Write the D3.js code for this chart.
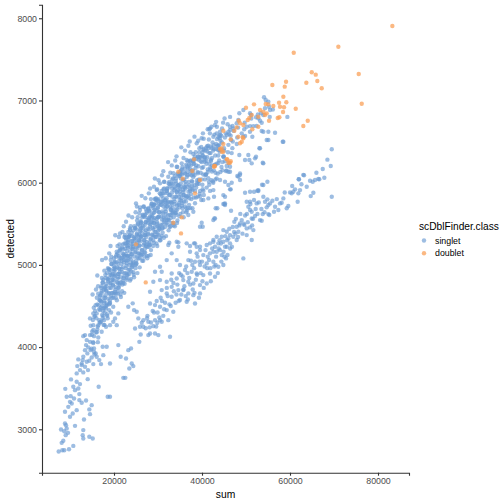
<!DOCTYPE html>
<html>
<head>
<meta charset="utf-8">
<script src="https://cdn.jsdelivr.net/npm/d3@7"></script>
<style>
  body { margin: 0; background: #fff; }
  text { font-family: "Liberation Sans", Arial, sans-serif; }
</style>
</head>
<body>
<div class="chart"></div>
<script>
// values, [sum, detected]
var tailPts = [
  [7430,2730],[8250,2746],[8700,2746],[9770,2758],[10750,2798],[8110,2835],[8480,2860],[9020,2929],[9550,2957],
  [7960,2998],[8700,2977],[9250,3010],[8860,3071],[9090,3050],[11140,3042],[13020,2990],[12890,2929],[13020,2888],
  [14390,2909],[15160,2888],[14550,3184],[13180,3120],[10000,3152],[10620,3193],[11520,3233],[8860,3213],[9620,3273],
  [10390,3314],[9250,3395],[10160,3403],[10750,3517],[11140,3476],[11890,3497],[10230,3607],[11520,3578],[12270,3550],
  [8930,3492],[10000,3334],[10910,3375],[12120,3355],[12660,3322],[12120,3428],[11520,3680],[13020,3692],[12270,3720],
  [11660,3769],[12660,3781],[13410,3760],[11890,3850],[12890,3842],[13800,3821],[14020,3610],[16520,3517],[18570,3395],
  [19090,3395],[14090,3720],[14930,3294],[14390,3242],[13640,3351],
  [13020,4133],[13800,4085],[14550,4064],[13640,4024],[14160,3996],[14700,3963],[15460,3984],[15840,3923],[13940,3923],
  [14930,3874],[16070,3882],[16660,3842],[17050,3793],[17570,3902],[15300,3793],[14390,3833],[13410,3963],[13020,3882],
  [12660,3801],[18340,4004],[17430,4004],[16430,4117],[15300,4207],[16210,4215],[17200,4186],[18180,4247],[19090,4267],
  [19090,3801],[15300,4267],[14550,4146],[15460,4133],[14550,4349],[15530,4369],[16070,4410],[16820,4450],[17570,4471],
  [16660,4328],[17730,4328],[16430,4267],[19840,4308],[20620,4267],[20980,4410],[20230,4349]
];

var upperBand = [
  [14900,3980],[15200,4330],[15000,4150],[15400,4480],[14700,4260],[15300,4050],
  [15900,4180],[16200,4520],[16000,4350],[16400,4650],[15700,4440],[16300,4250],[16100,4600],
  [16900,4300],[17200,4660],[17000,4480],[17400,4780],[16700,4570],[17300,4390],[17100,4720],[16800,4620],
  [17900,4420],[18200,4770],[18000,4600],[18400,4900],[17700,4700],[18300,4510],[18100,4840],[17800,4560],[18250,4680],
  [18900,4520],[19200,4880],[19000,4720],[19400,5010],[18700,4800],[19300,4620],[19100,4940],[18800,4660],[19250,4780],[19050,4570],
  [19900,4600],[20200,4970],[20000,4810],[20400,5100],[19700,4890],[20300,4700],[20100,5030],[19800,4750],[20250,4870],[20050,4650],[19950,4930],
  [20900,4680],[21200,5050],[21000,4890],[21400,5180],[20700,4970],[21300,4780],[21100,5110],[20800,4830],[21250,4950],[21050,4730],[20950,5010],
  [21900,4760],[22200,5130],[22000,4970],[22400,5260],[21700,5050],[22300,4860],[22100,5190],[21800,4910],[22250,5030],[22050,4810],[21950,5090],
  [22900,4840],[23200,5210],[23000,5050],[23400,5340],[22700,5130],[23300,4940],[23100,5270],[22800,4990],[23250,5110],[23050,4890],[22950,5170],
  [23900,4920],[24200,5290],[24000,5130],[24400,5420],[23700,5210],[24300,5020],[24100,5350],[23800,5070],[24250,5190],[24050,4970],[23950,5250],
  [24900,5000],[25200,5370],[25000,5210],[25400,5500],[24700,5290],[25300,5100],[25100,5430],[24800,5150],[25250,5270],[25050,5050],[24950,5330],
  [25900,5080],[26200,5450],[26000,5290],[26400,5580],[25700,5370],[26300,5180],[26100,5510],[25800,5230],[26250,5350],[26050,5130],[25950,5410],
  [26900,5150],[27200,5520],[27000,5360],[27400,5650],[26700,5440],[27300,5250],[27100,5580],[26800,5300],[27250,5420],[27050,5200],[26950,5480],
  [27900,5220],[28200,5590],[28000,5430],[28400,5720],[27700,5510],[28300,5320],[28100,5650],[27800,5370],[28250,5490],[28050,5270],[27950,5550],
  [28900,5300],[29200,5670],[29000,5510],[29400,5800],[28700,5590],[29300,5400],[29100,5730],[28800,5450],[29250,5570],[29050,5350],[28950,5630],
  [29900,5370],[30200,5740],[30000,5580],[30400,5870],[29700,5660],[30300,5470],[30100,5800],[29800,5520],[30250,5640],[30050,5420],[29950,5700],
  [30900,5440],[31200,5810],[31000,5650],[31400,5930],[30700,5730],[31300,5540],[31100,5870],[30800,5590],[31250,5710],[31050,5490],[30950,5770],
  [31900,5510],[32200,5870],[32000,5710],[32400,5990],[31700,5790],[32300,5600],[32100,5930],[31800,5650],[32250,5770],[32050,5550],
  [32900,5570],[33200,5930],[33000,5770],[33400,6050],[32700,5850],[33300,5660],[33100,5990],[32800,5710],[33250,5830],[33050,5610],
  [33900,5630],[34200,5990],[34000,5830],[34400,6110],[33700,5910],[34300,5720],[34100,6050],[33800,5770],[34250,5890],[34050,5670],
  [34900,5700],[35200,6050],[35000,5890],[35400,6160],[34700,5970],[35300,5780],[35100,6110],[34800,5830],[35250,5950],
  [35900,5770],[36200,6110],[36000,5950],[36400,6220],[35700,6030],[36300,5840],[36100,6170],[35800,5890],[36250,6010],
  [36900,5840],[37200,6170],[37000,6010],[37400,6270],[36700,6090],[37300,5900],[37100,6220],[36800,5950],
  [37900,5910],[38200,6230],[38000,6070],[38400,6320],[37700,6150],[38300,5970],[38100,6270],[37800,6010],
  [38900,5980],[39200,6280],[39000,6130],[39400,6370],[38700,6210],[39300,6040],[39100,6320],
  [39900,6040],[40200,6330],[40000,6180],[40400,6410],[39700,6260],[40300,6100],[40100,6370],
  [40900,6100],[41200,6380],[41000,6230],[41400,6450],[40700,6310],[41300,6160],
  [41900,6160],[42200,6420],[42000,6280],[42400,6490],[41700,6360],[42300,6210],
  [42900,6220],[43200,6470],[43000,6330],[43400,6530],[42700,6410],
  [43900,6270],[44200,6510],[44000,6380],[44400,6570],[43700,6450],
  [44900,6320],[45200,6550],[45000,6420],[45400,6600],
  [45900,6370],[46200,6590],[46000,6460],[46400,6640],
  [46900,6420],[47200,6630],[47000,6500],
  [47900,6470],[48200,6670],[48000,6550],
  [49400,6560],[49700,6730],[49600,6650],
  [50900,6620],[51200,6780],[52400,6690],[52700,6830],[55400,6800],[56100,6890]
];

var upperFill = [
  [15130,4640],[15470,3940],[15820,4510],[15260,4060],[15690,4380],[15040,4190],[15560,3910],[15910,4700],
  [16090,4180],[16380,4740],[16740,4300],[16210,4870],[16610,4460],[16950,4630],[16330,4060],[16520,4510],
  [17170,4740],[17430,4350],[17800,4930],[17020,4560],[17650,4270],[17290,5060],[17880,4480],[17560,4820],
  [18130,5080],[18470,4380],[18820,4950],[18260,4500],[18690,4820],[18040,4630],[18560,4350],[18910,5140],
  [19090,4540],[19380,5100],[19740,4660],[19210,5230],[19610,4820],[19950,4990],[19330,4420],[19520,4870],
  [20170,5040],[20430,4650],[20800,5230],[20020,4860],[20650,4570],[20290,5360],[20880,4780],[20560,5120],
  [21130,5340],[21470,4640],[21820,5210],[21260,4760],[21690,5080],[21040,4890],[21560,4610],[21910,5400],
  [22090,4780],[22380,5340],[22740,4900],[22210,5470],[22610,5060],[22950,5230],[22330,4660],[22520,5110],
  [23170,5280],[23430,4890],[23800,5470],[23020,5100],[23650,4810],[23290,5600],[23880,5020],[23560,5360],
  [24130,5580],[24470,4880],[24820,5450],[24260,5000],[24690,5320],[24040,5130],[24560,4850],[24910,5640],
  [25090,5020],[25380,5580],[25740,5140],[25210,5710],[25610,5300],[25950,5470],[25330,4900],[25520,5350],
  [26170,5520],[26430,5130],[26800,5710],[26020,5340],[26650,5050],[26290,5840],[26880,5260],[26560,5600],
  [27130,5810],[27470,5110],[27820,5680],[27260,5230],[27690,5550],[27040,5360],[27560,5080],[27910,5870],
  [28090,5240],[28380,5800],[28740,5360],[28210,5930],[28610,5520],[28950,5690],[28330,5120],[28520,5570],
  [29170,5730],[29430,5340],[29800,5920],[29020,5550],[29650,5260],[29290,6050],[29880,5470],[29560,5810],
  [30130,6030],[30470,5330],[30820,5900],[30260,5450],[30690,5770],[30040,5580],[30560,5300],[30910,6090],
  [31090,5450],[31380,6010],[31740,5570],[31210,6140],[31610,5730],[31950,5900],[31330,5330],[31520,5780],
  [32170,5930],[32430,5540],[32800,6120],[32020,5750],[32650,5460],[32290,6250],[32880,5670],[32560,6010],
  [33130,6210],[33470,5510],[33820,6080],[33260,5630],[33690,5950],[33040,5760],[33560,5480],[33910,6270],
  [34090,5630],[34380,6190],[34740,5750],[34210,6320],[34610,5910],[34950,6080],[34330,5510],[34520,5960],
  [35170,6110],[35430,5720],[35800,6300],[35020,5930],[35650,5640],[35290,6430],[35880,5850],[35560,6190],
  [36130,6390],[36470,5690],[36820,6260],[36260,5810],[36690,6130],[36040,5940],[36560,5660],[36910,6450],
  [37090,5810],[37380,6370],[37740,5930],[37210,6500],[37610,6090],[37950,6260],[37330,5690],[37520,6140],
  [38170,6290],[38430,5900],[38800,6480],[38020,6110],[38650,5820],[38290,6560],[38880,6030],[38560,6370],
  [39130,6510],[39470,5865],[39820,6435],[39260,5985],[39690,6305],[39040,6115],[39560,5835],[39910,6540],
  [40090,5975],[40380,6535],[40740,6095],[40210,6600],[40610,6255],[40950,6425],[40330,5900],[40520,6305],
  [41170,6445],[41430,6055],[41800,6600],[41020,6265],[41650,5975],[41290,6650],[41880,6185],[41560,6525],
  [42130,6680],[42470,6015],[42820,6585],[42260,6135],[42690,6455],[42040,6265],[42560,6000],[42910,6700],
  [43090,6120],[43380,6680],[43740,6240],[43210,6740],[43610,6400],[43950,6570],[43330,6050],[43520,6450],
  [44170,6580],[44430,6190],[44800,6730],[44020,6400],[44650,6150],[44880,6320],[44560,6660],
  [45130,6780],[45470,6140],[45820,6710],[45260,6260],[45690,6580],[45040,6390],[45560,6150],
  [46090,6240],[46380,6800],[46740,6360],[46610,6520],[46950,6690],[46520,6570]
];

// the saturated ridge of the upper band
var upperRidge = [
  [17060,4310],[17190,4680],[17310,4500],[17440,4790],[17570,4380],[17700,4600],[17830,4270],[17950,4730],[17250,4840],[17500,4440],[17760,4540],[17120,4550],
  [18030,4880],[18160,4470],[18280,4740],[18410,4400],[18540,4830],[18670,4590],[18800,4940],[18920,4650],[18350,4530],[18610,4960],[18880,4450],[18220,4690],
  [19060,4530],[19190,4900],[19310,4720],[19440,5010],[19570,4600],[19700,4820],[19830,4490],[19950,4950],[19250,5060],[19500,4660],[19760,4760],[19120,4770],
  [20030,5080],[20160,4670],[20280,4940],[20410,4600],[20540,5030],[20670,4790],[20800,5140],[20920,4850],[20350,4730],[20610,5160],[20880,4650],[20220,4890],
  [21060,4720],[21190,5090],[21310,4910],[21440,5200],[21570,4790],[21700,5010],[21830,4680],[21950,5140],[21250,5250],[21500,4850],[21760,4950],[21120,4960],
  [22030,5250],[22160,4840],[22280,5110],[22410,4770],[22540,5200],[22670,4960],[22800,5310],[22920,5020],[22350,4900],[22610,5330],[22880,4820],[22220,5060],
  [23060,4870],[23190,5240],[23310,5060],[23440,5350],[23570,4940],[23700,5160],[23830,4830],[23950,5290],[23250,5400],[23500,5000],[23760,5100],[23120,5110],
  [24030,5390],[24160,4980],[24280,5250],[24410,4910],[24540,5340],[24670,5100],[24800,5450],[24920,5160],[24350,5040],[24610,5470],[24880,4960],[24220,5200],
  [25060,5010],[25190,5380],[25310,5200],[25440,5490],[25570,5080],[25700,5300],[25830,4970],[25950,5430],[25250,5540],[25500,5140],[25760,5240],[25120,5250],
  [26030,5530],[26160,5120],[26280,5390],[26410,5050],[26540,5480],[26670,5240],[26800,5590],[26920,5300],[26350,5180],[26610,5610],[26880,5100],[26220,5340],
  [27060,5150],[27190,5520],[27310,5340],[27440,5630],[27570,5220],[27700,5440],[27830,5110],[27950,5570],[27250,5680],[27500,5280],[27760,5380],[27120,5390],
  [28030,5660],[28160,5250],[28280,5520],[28410,5180],[28540,5610],[28670,5370],[28800,5720],[28920,5430],[28350,5310],[28610,5740],[28880,5230],[28220,5470],
  [29060,5270],[29190,5640],[29310,5460],[29440,5750],[29570,5340],[29700,5560],[29830,5230],[29950,5690],[29250,5800],[29500,5400],[29760,5500],[29120,5510],
  [30030,5780],[30160,5370],[30280,5640],[30410,5300],[30540,5730],[30670,5490],[30800,5840],[30920,5550],[30350,5430],[30610,5860],[30880,5350],[30220,5590],
  [31060,5390],[31190,5760],[31310,5580],[31440,5870],[31570,5460],[31700,5680],[31830,5350],[31950,5810],[31250,5920],[31500,5520],[31760,5620],[31120,5630],
  [32030,5900],[32160,5490],[32280,5760],[32410,5420],[32540,5850],[32670,5610],[32800,5960],[32920,5670],[32350,5550],[32610,5980],[32880,5470],[32220,5710],
  [33060,5510],[33190,5880],[33310,5700],[33440,5990],[33570,5580],[33700,5800],[33830,5470],[33950,5930],[33250,6040],[33500,5640],[33760,5740],[33120,5750],
  [34030,6020],[34160,5610],[34280,5880],[34410,5540],[34540,5970],[34670,5730],[34800,6080],[34920,5790],[34350,5670],[34610,6100],[34880,5590],[34220,5830],
  [35060,5620],[35190,5990],[35310,5810],[35440,6100],[35570,5690],[35700,5910],[35830,5580],[35950,6040],[35250,6150],[35500,5750],[35760,5850],[35120,5860],
  [36030,6120],[36160,5710],[36280,5980],[36410,5640],[36540,6070],[36670,5830],[36800,6180],[36920,5890],[36350,5770],[36610,6200],[36880,5690],[36220,5930],
  [37060,5730],[37190,6100],[37310,5920],[37440,6210],[37570,5800],[37700,6020],[37830,5690],[37950,6150],[37250,6260],[37500,5860],[37760,5960],[37120,5970],
  [38030,6230],[38160,5820],[38280,6090],[38410,5750],[38540,6180],[38670,5940],[38800,6290],[38920,6000],
  [39060,5830],[39190,6200],[39310,6020],[39440,6310],[39570,5900],[39700,6120],[39830,5790],[39950,6250],
  [40030,6330],[40160,5920],[40280,6190],[40410,5850],[40540,6280],[40670,6040],[40800,6390],[40920,6100],
  [41060,5940],[41190,6310],[41310,6130],[41440,6420],[41570,6010],[41700,6230],[41830,5900],[41950,6360],
  [42030,6440],[42160,6030],[42280,6300],[42540,6390],[42670,6150],[42920,6210],
  [43060,6040],[43190,6410],[43310,6230],[43570,6110],[43700,6330],[43950,6460],
  [44030,6540],[44160,6130],[44280,6400],[44540,6490],[44670,6250],[44920,6310]
];

var upperEdge = [
  [41670,6649],[39400,6418],[40300,6397],[38030,6349],[39170,6316],[36520,6276],[35390,6235],[34250,6194],[35000,6133],
  [33480,6114],[32340,6072],[31440,6012],[30460,5992],[29710,5910],[29090,5951],[29710,5789],[28570,5748],[27800,5688],
  [26660,5707],[25760,5627],[27050,5606],[23640,5424],[23250,5342],[22730,5262],[24390,5220],
  [54100,7039],[54480,7006],[55080,6985],[54320,6905],[55230,6924],[55460,6884],[53420,6844],[52800,6783],[52280,6795],
  [53940,6823],[53190,6754],[53570,6729],[50920,6844],[51140,6823],[49400,6884],[48480,6844],[48260,6762],
  [47890,6722],[47120,6661],[46370,6680],[46000,6620],[44100,6620],[43340,6600],[43710,6552],[42580,6559],[41820,6661],
  [50160,6680],[50920,6688],[51670,6688],[49030,6600],[49780,6568],[51440,6559],[53570,6628],[55080,6620],[56600,6608],
  [55080,6519],[58350,6498],[53040,6418],[53940,6235],[52280,6316],[51300,6235],[48480,6336],[48640,6113],[48030,6081],
  [46370,6133],[45620,6203],[44100,6032],[45230,6012],[46750,6000],[59400,6800],[53190,6418],[58490,6498],[53800,6243],
  [50760,6276],[52050,6296],[46000,6133],[46370,6194],[53940,6620],[54710,6519]
];

var betweenPts = [
  [20980,4024],[21520,3882],[22730,3862],[23480,3740],[24030,3801],[24390,3769],[22120,3626],[22570,3626],[23250,3963],
  [23870,3984],[25760,4064],[26070,4154],[27800,4146],[29320,4166],[28940,4255],[29850,4296],[30460,4328],[26660,4247],
  [26300,4296],[25530,4349],[24780,4227],[25160,4430],[23250,4491],[24250,4532],[24550,4450],
  [28190,4673],[28940,4794],[30460,4815],[29320,4916],[30840,4916],[31980,5058],[33110,5140],[34620,5220],[34250,5281],
  [32340,5241],[30460,4977],[34250,5058],[34620,5274],[32570,5269],[36520,5262],[39930,5512],[40160,5464],[42800,5566],
  [45080,5740],[43110,5688],[38030,5647],[36890,5606],[43480,5688],[42730,5829],[45230,5728],[50530,6336],[49780,6276],
  [40300,5789],[41440,5809],[46000,5971],[48640,6032],[46370,5919],
  [25910,5667],[23640,5444],[23250,5302],[21210,5172],[22500,5363],[18930,4848],[17960,4714],[16820,4572],[15300,4410],
  [13410,4146],[25000,5748],[25910,5700],[22730,5525],[21370,5383]
];

var lowerBand = [
  [38410,5262],[39550,5220],[41070,5241],[42580,5281],[43710,5262],[44850,5281],[45620,5220],
  [37280,5160],[38790,5140],[40300,5119],[41820,5140],[43340,5160],[44480,5119],[45460,5079],
  [36890,5058],[38410,5038],[39550,4998],[41070,5018],[42580,5038],[43710,4977],[44850,4998],
  [35000,4998],[36140,4937],[37660,4916],[38790,4896],[40300,4876],[41820,4896],[42960,4855],
  [33110,4896],[34250,4835],[35750,4815],[36890,4794],[38030,4774],[39550,4754],[41070,4774],
  [31980,4794],[33110,4733],[34620,4693],[35750,4693],[36890,4653],[38030,4632],[39550,4653],
  [30840,4693],[31980,4653],[33110,4612],[35000,4572],[36520,4551],[38410,4531],
  [28190,4531],[29320,4511],[30460,4490],[31980,4450],[33480,4430],
  [26660,4328],[27800,4308],[29320,4328],[30840,4308],[32340,4328],
  [25910,4247],[28190,4166],[30080,4146],[32730,4125],
  [69490,6406],[69260,6203],[69490,5829],[67440,6166],[66670,6041],[65690,6032],[65160,6012],[64550,6024],[65310,5878],
  [64710,5837],[63190,6091],[62050,6041],[61150,5919],[60760,5890],[60010,5882],[61900,5870],[61740,5768],[59260,5688],
  [59620,5716],[58490,5809],[58110,5756],[57730,5748],[56600,5707],[55080,5728],[55460,5748],[54320,5768],[54860,5797],
  [53940,5829],[52800,5898],[54860,6012],[53650,5975],
  [57350,5667],[56370,5646],[55080,5618],[55300,5606],[53800,5618],[53190,5545],[53570,5537],[52050,5594],[51300,5646],
  [50920,5667],[51300,5565],[52430,5748],[51820,5789],[50920,5768],[50160,5768],[50530,5707],[49780,5878],[50920,5890],
  [52800,5910],[51820,5890],[48640,6095],[48260,6074],[46530,5919],[46600,5659],[48640,5504],[49030,5545],[49630,5484],
  [50160,5444],[50920,5456],[51670,5423],[47350,5525],[47890,5464],[48260,5403],[50160,5362],[51300,5302],[49400,5079],
  [44850,5423],[45620,5403],[44480,5342],[46370,5362],[46000,5322],[47120,5342],[47890,5302],[43340,5342],[42580,5302],
  [41820,5262],[42960,5220],[44100,5180],[45230,5220],[46370,5262],[39550,5464],[42580,5545],[44850,5740],[45230,5829],
  [39550,5180],[38790,5220],[37280,5229],[38190,5262],[52580,5902],[53940,5971],[42580,5910],[44850,5849],[45230,5748],
  [42960,5565],[66440,6044],[63030,6095],[61970,6041],[62280,5910],[60380,5870],
  [27200,4230],[27600,4380],[28400,4300],[28800,4440],[29600,4250],[29900,4420],[30600,4600],[31200,4380],[31600,4540],
  [32000,4720],[32600,4520],[33000,4820],[33600,4680],[34000,4540],[34400,4760],[34800,4900],[35300,4640],[35600,4860],
  [36000,4740],[36400,4980],[36800,4580],[37100,4840],[37500,5050],[37900,4700],[38200,4960],[38600,4820],[39000,5100],
  [39300,4600],[39700,4900],[40000,5040],[40400,4720],[40800,5180],[41200,4960],[41600,5060],[42000,4800],[42300,5200],
  [42800,4980],[43200,5100],[43600,4900],[44000,5300],[44400,5040],[44900,5160],[45300,5350],[45800,5120],[46200,5440],
  [46800,5220],[47300,5400],[47700,5560],[48200,5340],[48700,5620],[49200,5380],[49800,5600],[50400,5520],[51000,5740],
  [51600,5560],[52200,5680],[52900,5760],[53500,5680],[54200,5640],[56000,5780],[57000,5800],[58800,5880],[60500,5960],
  [62600,5980],[63800,5950],[66000,6120],[67800,6060],[68500,6280],
  [27500,4350],[28100,4240],[29100,4420],[29700,4560],[30300,4360],[30900,4560],[31400,4460],[32200,4620],[32900,4500],
  [33500,4780],[34200,4640],[34700,4560],[35200,4880],[35800,4700],[36300,4620],[36700,4900],[37300,4760],[37800,5000],
  [38300,4660],[38900,4880],[39400,5040],[40100,4800],[40600,4980],[41300,5100],[41900,4960],[42600,5160],[43100,5000],
  [43800,5200],[44300,5260],[45100,5100],[45700,5300],[46400,5200],[47000,5460],[47600,5380],[48500,5480],[49500,5500],
  [50200,5620],[51400,5480],[52600,5620],[54700,5700]
];

var doublets = [
  [83260,7906],[70990,7654],[60850,7581],[64940,7343],[65850,7314],[66210,7237],[63710,7216],[67210,7148],[75620,7322],
  [76300,6961],[59100,7228],[58800,7168],[55990,7188],[58490,7046],[57510,6973],[59170,6978],[57730,6924],[58640,6917],
  [58420,6860],[61300,6900],[57210,6787],[57580,6795],[64030,6754],[63030,6690],[55230,6754],[54480,6957],[55080,6953],
  [53190,6884],[53940,6863],[51820,6953],[50000,6912],[54710,6843],[54320,6823],[50760,6787],[50390,6762],[48350,6754],
  [49400,6701],[47890,6673],[47350,6632],[52800,6680],[51440,6649],[44850,6632],[46530,6527],[49030,6498],[49260,6552],
  [44850,6470],[44100,6409],[44480,6377],[45620,6285],[46000,6243],[42730,6194],[46530,6260],[56210,6933],[52800,6802],
  [51300,6823],[48640,6722],[48260,6559],[48640,6479],[49400,6540],[44850,6377],
  [38190,6284],[35620,6048],[38410,5870],[37800,6142],[45760,6284],[46370,6243],[44480,6418],[42960,6203],
  [33480,5512],[35390,5578],[39550,6032],[42800,6203],[25000,5250],[35230,5383],[27210,4787],[34620,6133]
];

var xTicks = [20000, 40000, 60000, 80000];
var yTicks = [3000, 4000, 5000, 6000, 7000, 8000];
var classes = ["singlet", "doublet"];
var classColors = ["#6a9bd3", "#fa9d52"];

var W = 504, H = 504;
var panel = {left: 42, right: 409, top: 4.7, bottom: 472.7};

var x = d3.scaleLinear().domain([3636, 87045]).range([panel.left, panel.right]);
var y = d3.scaleLinear().domain([2472, 8165]).range([panel.bottom, panel.top]);
var color = d3.scaleOrdinal().domain(classes).range(classColors);

var svg = d3.select(".chart").append("svg")
    .attr("width", W)
    .attr("height", H);

var singlets = [].concat(tailPts, upperBand, upperFill, upperRidge, upperEdge, betweenPts, lowerBand);

var dots = svg.append("g");
dots.selectAll("circle.s")
    .data(singlets)
  .enter().append("circle")
    .attr("class", "s")
    .attr("cx", function(d) { return x(d[0]); })
    .attr("cy", function(d) { return y(d[1]); })
    .attr("r", 2.2)
    .attr("fill", color("singlet"))
    .attr("fill-opacity", 0.66);

dots.selectAll("circle.d")
    .data(doublets)
  .enter().append("circle")
    .attr("class", "d")
    .attr("cx", function(d) { return x(d[0]); })
    .attr("cy", function(d) { return y(d[1]); })
    .attr("r", 2.2)
    .attr("fill", color("doublet"))
    .attr("fill-opacity", 0.72);

// axes
var xAxis = svg.append("g")
    .attr("transform", "translate(0," + panel.bottom + ")")
    .call(d3.axisBottom(x).tickValues(xTicks).tickSize(3).tickPadding(2).tickFormat(d3.format("d")));
var yAxis = svg.append("g")
    .attr("transform", "translate(" + panel.left + ",0)")
    .call(d3.axisLeft(y).tickValues(yTicks).tickSize(3).tickPadding(2).tickFormat(d3.format("d")));

[xAxis, yAxis].forEach(function(a) {
  a.select(".domain").attr("stroke", "#333").attr("stroke-width", 1.1);
  a.selectAll(".tick line").attr("stroke", "#333").attr("stroke-width", 1.1);
  a.selectAll(".tick text")
      .attr("fill", "#4d4d4d")
      .style("font-size", "8.8px")
      .style("font-family", "'Liberation Sans', Arial, sans-serif");
});

svg.append("text")
    .attr("x", (panel.left + panel.right) / 2)
    .attr("y", 497.5)
    .attr("text-anchor", "middle")
    .style("font-size", "10.3px")
    .text("sum");

svg.append("text")
    .attr("transform", "translate(13.5," + ((panel.top + panel.bottom) / 2) + ") rotate(-90)")
    .attr("text-anchor", "middle")
    .style("font-size", "10.3px")
    .text("detected");

// legend
var legend = svg.append("g").attr("transform", "translate(419,0)");
legend.append("text")
    .attr("x", 0)
    .attr("y", 230)
    .style("font-size", "10.2px")
    .text("scDblFinder.class");

classes.forEach(function(c, i) {
  legend.append("circle")
      .attr("cx", 5)
      .attr("cy", 240.5 + i * 12.8)
      .attr("r", 2.2)
      .attr("fill", color(c))
      .attr("fill-opacity", i ? 0.72 : 0.66);
  legend.append("text")
      .attr("x", 16)
      .attr("y", 243.6 + i * 12.8)
      .attr("fill", "#000")
      .style("font-size", "8.8px")
      .text(c);
});
</script>
</body>
</html>
